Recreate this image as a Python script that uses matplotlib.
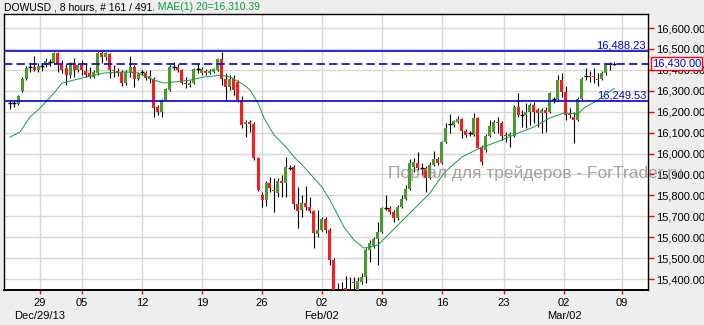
import matplotlib
matplotlib.use("Agg")
import matplotlib.pyplot as plt
import matplotlib.transforms as mtransforms
import numpy as np

plt.rcParams['font.family'] = ['Liberation Sans', 'DejaVu Sans']

# 8-hour candles, DOWUSD
opens = [16240, 16240, 16237, 16299, 16356, 16414, 16414, 16399, 16419, 16423,
         16438, 16433, 16481, 16428, 16409, 16376, 16433, 16399, 16423, 16395,
         16385, 16366, 16385, 16481, 16462, 16476, 16399, 16395, 16390,
         16337, 16390, 16414, 16356, 16388, 16385, 16356, 16356, 16223, 16199,
         16256, 16304, 16414, 16414, 16399, 16337, 16328, 16337, 16404, 16385,
         16395, 16385, 16390, 16399, 16452, 16356, 16318, 16361, 16342, 16256,
         16141, 16151, 16141, 15979, 15802, 15778, 15859, 15826, 15811, 15869,
         15859, 15933, 15936, 15759, 15730, 15764, 15745, 15725, 15615, 15635,
         15687, 15635, 15491, 15324, 15310, 15357, 15338, 15386, 15348, 15386,
         15410, 15539, 15558, 15592, 15625, 15740, 15740, 15721, 15692, 15745,
         15783, 15831, 15936, 15955, 15931, 15931, 15883, 15945, 15974, 15955,
         16055, 16139, 16136, 16151, 16165, 16108, 16098, 16089, 16170, 16031,
         16017, 16084, 16103, 16151, 16146, 16089, 16084, 16084, 16223, 16184,
         16184, 16199, 16232, 16208, 16194, 16208, 16199, 16261, 16261, 16352,
         16294, 16189, 16175, 16160, 16261, 16370, 16371, 16371, 16356, 16356,
         16385, 16423, 16430]
highs = [16256, 16251, 16280, 16366, 16419, 16433, 16466, 16433, 16433, 16457,
         16452, 16485, 16485, 16447, 16428, 16438, 16457, 16433, 16447, 16433,
         16414, 16399, 16490, 16490, 16485, 16481, 16423, 16409, 16399,
         16399, 16466, 16423, 16390, 16399, 16395, 16399, 16366, 16232, 16261,
         16313, 16423, 16438, 16428, 16404, 16366, 16352, 16409, 16433, 16414,
         16404, 16404, 16409, 16457, 16485, 16385, 16376, 16376, 16352, 16275,
         16160, 16160, 16151, 15984, 15816, 15869, 15888, 15883, 15883, 15897,
         15984, 15945, 15945, 15840, 15802, 15845, 15792, 15730, 15730, 15697,
         15697, 15644, 15501, 15381, 15386, 15415, 15410, 15410, 15410, 15429,
         15549, 15587, 15601, 15673, 15745, 15802, 15749, 15730, 15754, 15802,
         15850, 15974, 15979, 16007, 15955, 15941, 15960, 16012, 15984, 16060,
         16146, 16189, 16160, 16179, 16170, 16117, 16108, 16194, 16175, 16041,
         16093, 16160, 16160, 16175, 16156, 16103, 16103, 16232, 16289, 16208,
         16242, 16242, 16246, 16218, 16218, 16223, 16294, 16270, 16376, 16385,
         16323, 16218, 16199, 16270, 16366, 16409, 16395, 16409, 16385, 16395,
         16433, 16438, 16438]
lows = [16213, 16223, 16232, 16294, 16352, 16390, 16395, 16390, 16395, 16414,
        16419, 16428, 16390, 16385, 16328, 16361, 16366, 16390, 16376, 16366,
        16361, 16361, 16376, 16433, 16447, 16361, 16366, 16371, 16323,
        16328, 16366, 16318, 16352, 16376, 16352, 16337, 16175, 16184, 16175,
        16251, 16299, 16399, 16390, 16332, 16313, 16318, 16332, 16385, 16376,
        16376, 16380, 16385, 16395, 16328, 16256, 16304, 16280, 16246, 16122,
        16079, 16103, 15969, 15821, 15745, 15749, 15816, 15721, 15792, 15792,
        15792, 15921, 15735, 15644, 15697, 15730, 15716, 15549, 15601, 15630,
        15620, 15467, 15276, 15252, 15276, 15319, 15310, 15338, 15338, 15377,
        15381, 15482, 15549, 15467, 15620, 15730, 15711, 15673, 15682, 15740,
        15778, 15826, 15912, 15921, 15897, 15816, 15878, 15941, 15945, 15950,
        16050, 16098, 16127, 16146, 16074, 16079, 16084, 16084, 16027, 15945,
        16007, 16079, 16098, 16098, 16065, 16055, 16031, 16079, 16175, 16127,
        16122, 16136, 16146, 16127, 16098, 16103, 16194, 16242, 16256, 16270,
        16160, 16170, 16050, 16156, 16256, 16352, 16342, 16337, 16323, 16352,
        16376, 16399, 16425]
closes = [16240, 16240, 16275, 16356, 16409, 16414, 16399, 16419, 16419, 16442,
          16438, 16481, 16428, 16399, 16376, 16433, 16399, 16423, 16399, 16376,
          16371, 16390, 16481, 16462, 16481, 16399, 16395, 16385, 16337,
          16390, 16414, 16356, 16380, 16388, 16361, 16371, 16218, 16199, 16256,
          16309, 16414, 16414, 16399, 16337, 16332, 16337, 16404, 16404, 16404,
          16385, 16395, 16404, 16452, 16356, 16318, 16356, 16304, 16256, 16136,
          16151, 16141, 15979, 15826, 15778, 15859, 15835, 15821, 15869, 15859,
          15936, 15933, 15759, 15725, 15764, 15745, 15725, 15620, 15635, 15687,
          15635, 15491, 15300, 15310, 15324, 15348, 15343, 15381, 15391, 15410,
          15539, 15572, 15592, 15625, 15740, 15740, 15721, 15692, 15745, 15783,
          15831, 15955, 15960, 15931, 15931, 15883, 15945, 15974, 15955, 16055,
          16122, 16139, 16156, 16165, 16108, 16089, 16098, 16170, 16027, 15960,
          16084, 16132, 16151, 16146, 16084, 16084, 16093, 16223, 16184, 16184,
          16199, 16232, 16199, 16194, 16208, 16194, 16289, 16261, 16352, 16294,
          16184, 16184, 16160, 16261, 16356, 16370, 16366, 16366, 16352, 16385,
          16423, 16428, 16430]

# moving average (20) read at sample bars
ma_pos = [0, 2.5, 5, 7, 11, 13, 18, 23.5, 29, 32, 36, 38.5, 41, 45, 48.5, 53,
          55, 58.5, 60, 62, 63.5, 66, 69, 71, 73.5, 78, 80, 83.5, 86, 88.5,
          92, 95, 99, 105, 108.5, 113, 117, 123, 127, 131, 135, 138.5, 142,
          143.5, 147, 151]
ma_val = [16079, 16103, 16175, 16208, 16289, 16337, 16361, 16385, 16390, 16385,
          16351, 16337, 16342, 16351, 16366, 16375, 16366, 16328, 16304, 16242,
          16170, 16089, 16031, 15984, 15936, 15840, 15778, 15649, 15587, 15548,
          15563, 15620, 15697, 15811, 15907, 15984, 16022, 16065, 16098, 16127,
          16170, 16194, 16189, 16218, 16256, 16310.39]

tick_pos = [7.5, 18, 33, 48, 63, 78, 93, 108, 123.5, 138.5, 153]
tick_labels = ["29", "05", "12", "19", "26", "02", "09", "16", "23", "02", "09"]
month_pos = [7.5, 78, 138.5]
month_labels = ["Dec/29/13", "Feb/02", "Mar/02"]

resistance = 16488.23
support = 16249.53
last_price = 16430.00
ma_last = 16310.39

green = '#4a9b2a'
red = '#f81c1c'
blue = '#0000dd'
fs = 8

fig = plt.figure(figsize=(7.04, 3.25), dpi=100, facecolor='#eeeeee')
ax = fig.add_axes([4 / 704, 35 / 325, 644 / 704, 276 / 325])
ax.set_facecolor('white')

o = np.array(opens, dtype=float)
h = np.array(highs, dtype=float)
l = np.array(lows, dtype=float)
c = np.array(closes, dtype=float)
x = np.arange(len(o))

# wicks
ax.vlines(x, l, h, color='black', linewidth=0.8, zorder=3)
# bodies
body_h = np.maximum(np.abs(c - o), 4)
body_b = np.minimum(o, c)
cols = np.where(c > o, green, red)
body = c != o
ax.bar(x[body], body_h[body], bottom=body_b[body], width=0.75,
       color=cols[body], linewidth=0, zorder=4)
# crosses
doji = ~body
ax.hlines(c[doji], x[doji] - 0.5, x[doji] + 0.5, color='black', linewidth=1, zorder=5)

ax.plot(ma_pos, ma_val, color='#139a48', linewidth=0.7, zorder=5)

ax.axhline(resistance, color=blue, linewidth=1.2, zorder=6)
ax.axhline(support, color=blue, linewidth=1.2, zorder=6)
ax.axhline(last_price, color=blue, linewidth=1.2, linestyle=(0, (5, 2.5)), zorder=6)

trans = mtransforms.blended_transform_factory(ax.transAxes, ax.transData)
ax.text(0.997, resistance + 6, f"{resistance:,.2f}", transform=trans, ha='right',
        va='bottom', color=blue, fontsize=fs)
ax.text(0.997, support + 6, f"{support:,.2f}", transform=trans, ha='right',
        va='bottom', color=blue, fontsize=fs)
ax.text(1.006, last_price, f"{last_price:,.2f}", transform=trans, ha='left',
        va='center', color=blue, fontsize=fs, zorder=10, clip_on=False,
        bbox=dict(facecolor='white', edgecolor='red', linewidth=1, pad=1.0))

ax.set_xlim(-1.5, 159.5)
ax.set_ylim(15348, 16667)

yt = np.arange(15400, 16601, 100)
ax.set_yticks(yt)
ax.set_yticklabels([f"{v:,.2f}" for v in yt])
ax.yaxis.tick_right()
ax.tick_params(axis='y', direction='out', length=4, width=1, colors='red',
               labelcolor='black', labelsize=fs, pad=1.5)

ax.set_xticks(tick_pos)
ax.set_xticklabels(tick_labels)
ax.tick_params(axis='x', direction='out', length=3, width=1, colors='red',
               labelcolor='black', labelsize=fs, pad=3)

tx = mtransforms.blended_transform_factory(ax.transData, ax.transAxes)
for p, s in zip(month_pos, month_labels):
    ax.text(p, -0.094, s, transform=tx, ha='center', va='center', fontsize=fs)

ax.grid(True, color='#d8d8d8', linewidth=1.0, zorder=0)
ax.set_axisbelow(True)
for sp in ax.spines.values():
    sp.set_color('black')
    sp.set_linewidth(1.0)
ax.spines['bottom'].set_linewidth(1.4)

# header
t1 = fig.text(4 / 704, 1 - 7.5 / 325, "DOWUSD , 8 hours, # 161 / 491", ha='left',
              va='center', fontsize=7.5, color='black')
fig.canvas.draw()
bb = t1.get_window_extent()
fig.text(bb.x1 / fig.bbox.width, 1 - 7.5 / 325, f", MAE(1) 20={ma_last:,.2f}",
         ha='left', va='center', fontsize=7.5, color='#0e9a3c')

# watermark
fig.text(388 / 704, 1 - 173 / 325, "Портал для трейдеров - ForTrader.ru",
         ha='left', va='center', fontsize=12.5, color='#968888', alpha=0.8,
         zorder=20)

fig.savefig("out.png", dpi=100, facecolor=fig.get_facecolor())
